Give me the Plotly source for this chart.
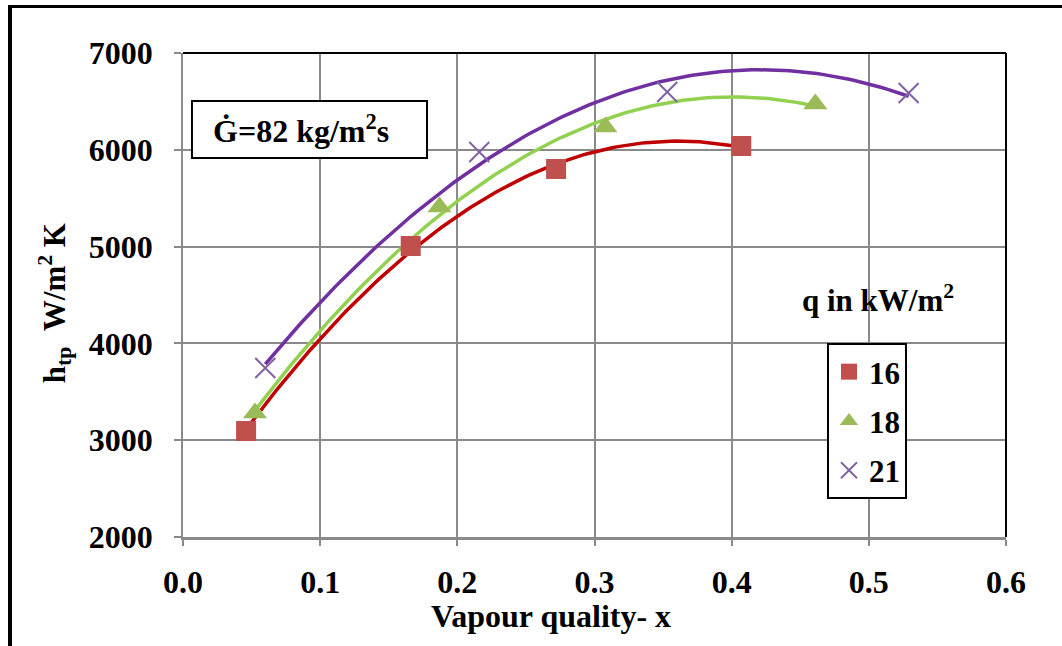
import numpy as np
import plotly.graph_objects as go

# Vapour quality (x) and heat transfer coefficient h_tp (W/m²K) per heat flux
x_16 = [0.046, 0.166, 0.272, 0.407]
h_16 = [3095, 5006, 5802, 6039]
x_18 = [0.0525, 0.187, 0.308, 0.461]
h_18 = [3281, 5409, 6236, 6473]
x_21 = [0.060, 0.216, 0.353, 0.529]
h_21 = [3746, 5977, 6597, 6587]

series_names = ["16", "18", "21"]
x_ticks = [0.0, 0.1, 0.2, 0.3, 0.4, 0.5, 0.6]
y_ticks = [2000, 3000, 4000, 5000, 6000, 7000]

FONT = "Liberation Serif"
GRID = "#8a8a8a"


def bold(size):
    return dict(family=FONT, size=size, color="black", weight="bold")


series = [
    (x_16, h_16, "16", dict(symbol="square", size=20, color="#C0504D"), "#C00000"),
    (x_18, h_18, "18", dict(symbol="triangle-up", size=21, color="#9BBB59"), "#92D050"),
    (x_21, h_21, "21", dict(symbol="x-thin", size=20, color="#8064A2",
                            line=dict(color="#8064A2", width=2)), "#7030A0"),
]

fig = go.Figure()

# second-order polynomial trendlines
for xs, hs, name, marker, lc in series:
    coef = np.polyfit(xs, hs, 2)
    xx = np.linspace(min(xs), max(xs), 120)
    fig.add_trace(go.Scatter(x=xx, y=np.polyval(coef, xx), mode="lines",
                             line=dict(color=lc, width=3.5), showlegend=False,
                             hoverinfo="skip"))

# measured points
for xs, hs, name, marker, lc in series:
    fig.add_trace(go.Scatter(x=xs, y=hs, mode="markers", name=name,
                             marker=marker, legendgroup=name))

fig.update_layout(
    width=1062, height=646,
    margin=dict(l=183, r=56, t=53, b=109),
    paper_bgcolor="white", plot_bgcolor="white",
    font=bold(32),
    showlegend=True,
    legend=dict(x=0.7825, y=0.4008, xanchor="left", yanchor="top",
                bgcolor="white", bordercolor="black", borderwidth=2,
                font=bold(31), tracegroupgap=6, itemsizing="trace"),
)

fig.update_xaxes(range=[0, 0.6], tickvals=x_ticks, tickformat=".1f",
                 showgrid=True, gridcolor=GRID, gridwidth=1.5,
                 showline=True, linecolor=GRID, linewidth=2.5,
                 ticks="outside", ticklen=6, tickcolor=GRID, tickwidth=1.5,
                 ticklabelstandoff=9, zeroline=False, tickfont=bold(32))
fig.update_yaxes(range=[2000, 7000], tickvals=y_ticks,
                 showgrid=True, gridcolor=GRID, gridwidth=1.5,
                 showline=True, linecolor=GRID, linewidth=1.5,
                 ticks="outside", ticklen=7, tickcolor=GRID, tickwidth=1.5,
                 ticklabelstandoff=15, zeroline=False, tickfont=bold(32))

shapes = [
    # top and right plot borders
    dict(type="line", xref="paper", yref="paper", x0=0, x1=1, y0=1, y1=1,
         line=dict(color="black", width=2)),
    dict(type="line", xref="paper", yref="paper", x0=1, x1=1, y0=0, y1=1,
         line=dict(color="black", width=2)),
    # chart frame
    dict(type="line", xref="paper", yref="paper", x0=-0.2102, x1=-0.2102,
         y0=-0.3, y1=1.0991, line=dict(color="black", width=4)),
    dict(type="line", xref="paper", yref="paper", x0=-0.2126, x1=1.2,
         y0=1.0961, y1=1.0961, line=dict(color="black", width=3)),
    # mass flux label box
    dict(type="rect", xref="paper", yref="paper", x0=0.0109, x1=0.2965,
         y0=0.783, y1=0.9008, fillcolor="white",
         line=dict(color="black", width=2), layer="above"),
]
fig.update_layout(shapes=shapes)

annotations = [
    dict(text="Ġ=82 kg/m<sup>2</sup>s", x=0.0340, y=0.843, xref="paper",
         yref="paper", xanchor="left", yanchor="middle", showarrow=False,
         font=bold(32)),
    dict(text="q in kW/m<sup>2</sup>", x=0.8450, y=0.492, xref="paper",
         yref="paper", xanchor="center", yanchor="middle", showarrow=False,
         font=bold(31)),
    dict(text="Vapour quality- x", x=0.447, y=-0.163, xref="paper",
         yref="paper", xanchor="center", yanchor="middle", showarrow=False,
         font=bold(32)),
    dict(text="h<sub>tp</sub>&nbsp;&nbsp;W/m<sup>2</sup> K", x=-0.1555, y=0.483,
         xref="paper", yref="paper", xanchor="center", yanchor="middle",
         textangle=-90, showarrow=False, font=bold(31)),
]
fig.update_layout(annotations=annotations)

fig.write_html("out.html")
